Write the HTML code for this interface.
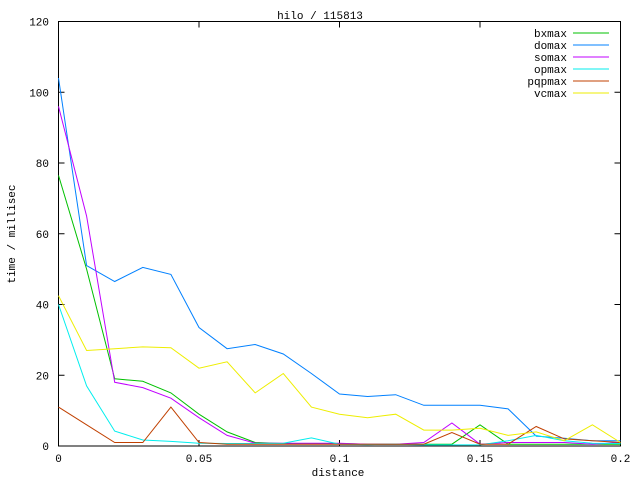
<!DOCTYPE html>
<html><head><meta charset="utf-8"><style>
body{margin:0;background:#fff}
svg text{font-family:"Liberation Mono","DejaVu Sans Mono",monospace;font-size:11px;fill:#000}
</style></head><body>
<svg id="s" width="640" height="480" xmlns="http://www.w3.org/2000/svg">
<rect x="58.5" y="21.5" width="562" height="424.5" fill="none" stroke="#000" stroke-width="1"/>
<text x="320" y="19" text-anchor="middle">hilo / 115813</text>
<text x="338" y="476" text-anchor="middle">distance</text>
<text transform="translate(15,234) rotate(-90)" text-anchor="middle">time / millisec</text>
<g id="ax"></g>
<g id="lines" fill="none" stroke-width="1"></g>
</svg>
<script>
var X0=58.5,X1=620.5,Y0=446,SY=(446-21.5)/120;
function px(x){return X0+(X1-X0)*x/0.2}
function py(y){return Y0-y*SY}
var ax=document.getElementById('ax'),h='';
for(var v=0;v<=120;v+=20){var y=py(v);h+='<line x1="58.5" x2="64.5" y1="'+y+'" y2="'+y+'" stroke="#000"/><line x1="614.5" x2="620.5" y1="'+y+'" y2="'+y+'" stroke="#000"/><text x="49" y="'+(y+4)+'" text-anchor="end">'+v+'</text>';}
var xl=['0','0.05','0.1','0.15','0.2'];
for(var i=0;i<5;i++){var x=px(i*0.05);h+='<line x1="'+x+'" x2="'+x+'" y1="446" y2="440" stroke="#000"/><line x1="'+x+'" x2="'+x+'" y1="21.5" y2="27.5" stroke="#000"/><text x="'+x+'" y="462" text-anchor="middle">'+xl[i]+'</text>';}
ax.innerHTML=h;
var S=[
['bxmax','#00c000',[76.5,50,19,18.3,15,9,4,1,0.7,0.7,0.7,0.5,0.5,0.5,0.5,6,0.5,0.5,0.5,0.5,0.5]],
['domax','#0080ff',[104,51,46.5,50.5,48.5,33.5,27.5,28.7,26,20.5,14.7,14,14.5,11.5,11.5,11.5,10.5,2.8,2.2,1.5,1.5]],
['somax','#c000ff',[96,65,18,16.5,13.5,8,3,0.8,0.8,0.8,0.8,0.5,0.5,1,6.5,0.5,1,1,1,0.5,1]],
['opmax','#00eeee',[40,17,4.2,1.7,1.3,0.8,0.7,0.7,0.8,2.3,0.5,0.4,0.5,0.3,0.3,0.3,1.5,3,1.5,0.8,0.7]],
['pqpmax','#c04000',[11,6,1,1,11,1,0.5,0.5,0.5,0.5,0.5,0.5,0.5,0.5,3.8,0.5,0.5,5.5,2,1.5,1]],
['vcmax','#eeee00',[42.5,27,27.5,28,27.8,22,23.8,15,20.5,11,9,8,9,4.5,4.5,5,3,4,1.5,6,1]]];
var g='';
S.forEach(function(s,k){var p=s[2].map(function(v,i){return px(i*0.01).toFixed(1)+','+py(v).toFixed(1)}).join(' ');
g+='<polyline points="'+p+'" stroke="'+s[1]+'"/>';
var ly=33+k*12;
g+='<text x="567" y="'+(ly+4)+'" text-anchor="end" stroke="none">'+s[0]+'</text><line x1="573" x2="609" y1="'+ly+'" y2="'+ly+'" stroke="'+s[1]+'"/>';});
document.getElementById('lines').innerHTML=g;
</script>
</body></html>
